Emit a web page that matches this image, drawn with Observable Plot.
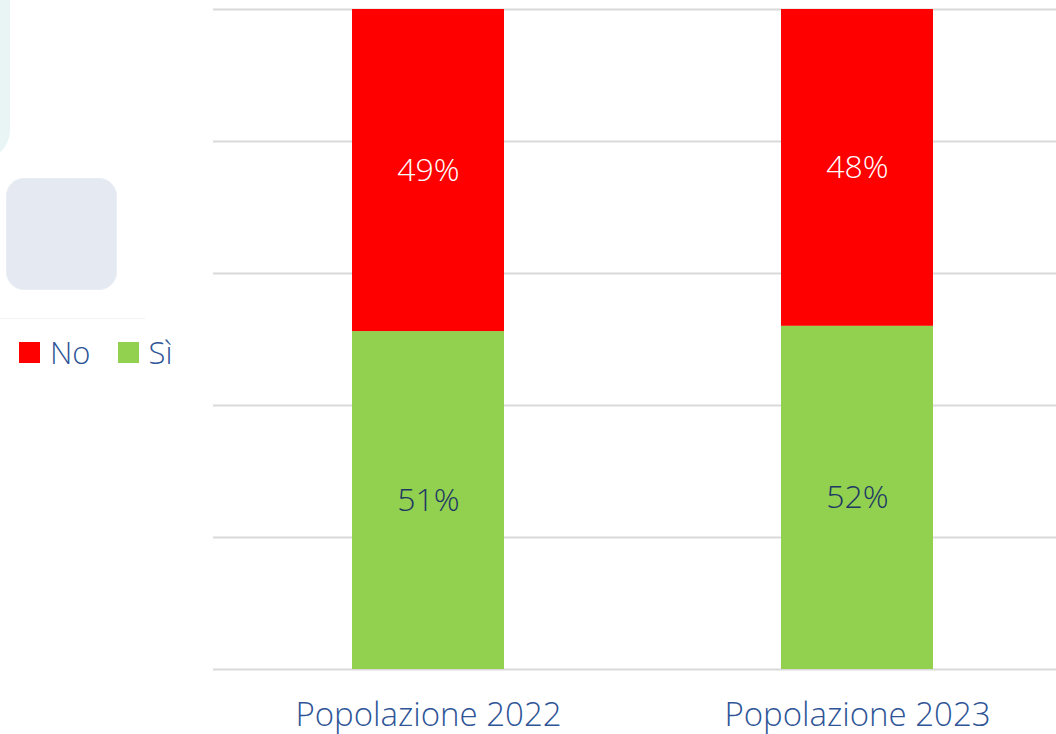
<!DOCTYPE html>
<html>
<head>
<meta charset="utf-8">
<script src="https://cdn.jsdelivr.net/npm/d3@7"></script>
<script src="https://cdn.jsdelivr.net/npm/@observablehq/plot@0.6"></script>
<style>
  body { margin: 0; background: #ffffff; }
  #wrap { position: relative; width: 1056px; height: 734px; overflow: hidden; font-family: "Open Sans", sans-serif; font-weight: 300; }
  .deco1 { position: absolute; left: -100px; top: -40px; width: 110px; height: 200px; background: #e9f5f5; border-radius: 30px; }
  .deco2 { position: absolute; left: 6px; top: 178px; width: 111px; height: 112px; background: #e4e9f2; border: 1px solid #e9edf5; box-sizing: border-box; border-radius: 18px; }
  .deco3 { position: absolute; left: 0; top: 318px; width: 145px; height: 1px; background: #f3f3f3; }
  #legend { position: absolute; left: 19px; top: 331px; display: flex; align-items: center; font-size: 31px; color: #2f5597; }
  #legend .item { display: flex; align-items: center; margin-right: 27px; }
  #legend .sw { width: 21px; height: 21px; margin-right: 10px; }
  #chart { position: absolute; left: 0; top: 0; }
</style>
</head>
<body>
<div id="wrap">
  <div class="deco1"></div>
  <div class="deco2"></div>
  <div class="deco3"></div>
  <div id="chart"></div>
  <div id="legend"></div>
</div>
<script>
const categories = ["Popolazione 2022", "Popolazione 2023"];
const series = ["Sì", "No"];
const siValues = [51.2, 52.0];
const noValues = [48.8, 48.0];
const siLabels = ["51%", "52%"];
const noLabels = ["49%", "48%"];
const seriesColors = ["#92d050", "#ff0000"];
const labelColors = ["#203864", "#ffffff"];
const legendOrder = ["No", "Sì"];
const yTicks = [0, 20, 40, 60, 80, 100];

const rows = [];
categories.forEach((c, i) => {
  rows.push({cat: c, serie: "Sì", value: siValues[i], label: siLabels[i]});
  rows.push({cat: c, serie: "No", value: noValues[i], label: noLabels[i]});
});

const labelMark = (serieName, color) =>
  Plot.text(rows, Plot.filter(d => d.serie === serieName,
    Plot.stackY({x: "cat", y: "value", z: "serie", order: series, text: "label",
      fill: color, fontSize: 32, fontWeight: 300})));

const plot = Plot.plot({
  width: 1056,
  height: 734,
  marginLeft: 213,
  marginRight: 0,
  marginTop: 9,
  marginBottom: 65,
  style: {fontFamily: "'Open Sans', sans-serif", fontWeight: 300, background: "transparent"},
  x: {domain: categories, range: [213, 1071], paddingInner: 0.646, paddingOuter: 0.323, label: null},
  y: {domain: [0, 100], axis: null},
  color: {domain: series, range: seriesColors},
  marks: [
    Plot.ruleY(yTicks, {stroke: "#d9d9d9", strokeWidth: 2}),
    Plot.barY(rows, {x: "cat", y: "value", fill: "serie", order: series}),
    labelMark(series[0], labelColors[0]),
    labelMark(series[1], labelColors[1]),
    Plot.axisX({tickSize: 0, tickPadding: 33, fontSize: 33, color: "#2f5597", label: null})
  ]
});
document.getElementById("chart").appendChild(plot);

const legend = document.getElementById("legend");
legendOrder.forEach(name => {
  const item = document.createElement("div");
  item.className = "item";
  const sw = document.createElement("span");
  sw.className = "sw";
  sw.style.background = seriesColors[series.indexOf(name)];
  const t = document.createElement("span");
  t.textContent = name;
  item.appendChild(sw);
  item.appendChild(t);
  legend.appendChild(item);
});
</script>
</body>
</html>
